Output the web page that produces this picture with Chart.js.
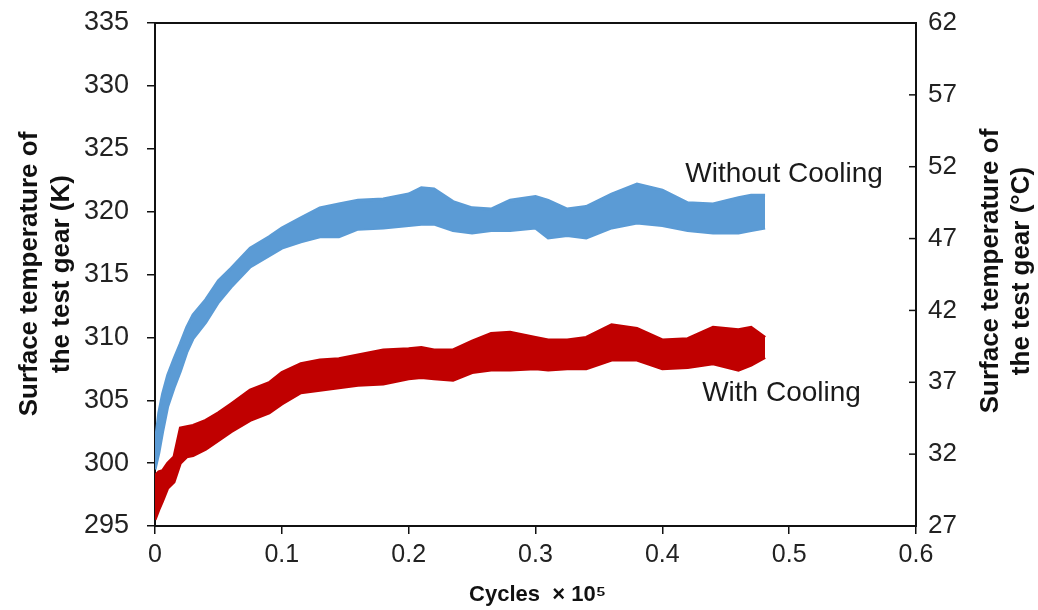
<!DOCTYPE html>
<html>
<head>
<meta charset="utf-8">
<script src="https://cdn.jsdelivr.net/npm/chart.js@4/dist/chart.umd.min.js"></script>
<style>
  html, body { margin: 0; padding: 0; background: #fff; }
  #wrap { width: 1038px; height: 610px; position: relative; }
</style>
</head>
<body>
<div id="wrap"><canvas id="c" width="1038" height="610"></canvas></div>
<script>
// ---- data ----
const cycles = [0, 0.003, 0.006, 0.01, 0.015, 0.02, 0.025, 0.03, 0.04, 0.05, 0.06, 0.075, 0.09, 0.1, 0.115, 0.13, 0.145, 0.16, 0.18, 0.2, 0.21, 0.22, 0.235, 0.25, 0.265, 0.28, 0.3, 0.31, 0.325, 0.34, 0.36, 0.38, 0.4, 0.42, 0.44, 0.46, 0.47, 0.481];
const withoutCoolingUpper = [301.5, 304.0, 305.5, 307.0, 308.3, 309.5, 310.8, 311.8, 313.0, 314.5, 315.5, 317.1, 318.0, 318.7, 319.5, 320.3, 320.6, 320.9, 321.0, 321.4, 321.9, 321.8, 320.8, 320.3, 320.2, 320.9, 321.2, 320.9, 320.2, 320.4, 321.4, 322.2, 321.7, 320.7, 320.6, 321.1, 321.3, 321.3];
const withoutCoolingLower = [299.5, 300.8, 302.5, 304.5, 306.0, 307.3, 308.8, 309.9, 311.2, 312.8, 314.0, 315.6, 316.5, 317.1, 317.6, 318.0, 318.0, 318.6, 318.7, 318.9, 319.0, 319.0, 318.5, 318.3, 318.5, 318.5, 318.7, 317.9, 318.1, 317.9, 318.7, 319.1, 318.9, 318.5, 318.3, 318.3, 318.5, 318.7];
const withCoolingUpper = [299.0, 299.3, 299.4, 300.0, 300.5, 302.8, 302.9, 303.0, 303.4, 304.0, 304.7, 305.8, 306.4, 307.2, 307.9, 308.2, 308.3, 308.6, 309.0, 309.1, 309.2, 309.0, 309.0, 309.7, 310.3, 310.4, 310.0, 309.8, 309.8, 310.0, 311.0, 310.7, 309.8, 309.9, 310.8, 310.6, 310.8, 310.0];
const withCoolingLower = [295.5, 296.3, 297.0, 298.0, 298.5, 300.0, 300.5, 300.6, 301.1, 301.8, 302.5, 303.4, 304.0, 304.7, 305.6, 305.8, 306.0, 306.2, 306.3, 306.7, 306.8, 306.7, 306.6, 307.2, 307.4, 307.4, 307.5, 307.4, 307.5, 307.5, 308.2, 308.2, 307.5, 307.6, 307.9, 307.4, 307.8, 308.4];
const xTickLabels = [0, 0.1, 0.2, 0.3, 0.4, 0.5, 0.6];
const kelvinTicks = [295, 300, 305, 310, 315, 320, 325, 330, 335];
const celsiusTicks = [27, 32, 37, 42, 47, 52, 57, 62];
const seriesNames = ['Without Cooling', 'With Cooling'];
const leftTitle = ['Surface temperature of', 'the test gear (K)'];
const rightTitle = ['Surface temperature of', 'the test gear (°C)'];
const xTitle = 'Cycles  × 10⁵';

const BLUE = '#5B9BD5';
const RED = '#C00000';
const pts = arr => arr.map((v, i) => ({ x: cycles[i], y: v }));

const FONT = '"Liberation Sans", Arial, sans-serif';
const NARROW = '"Liberation Sans Narrow", "Arial Narrow", "Liberation Sans", sans-serif';

const decor = {
  id: 'decor',
  afterDraw(chart) {
    const ctx = chart.ctx;
    const a = chart.chartArea;
    const x = chart.scales.x, y = chart.scales.y, y2 = chart.scales.y2;
    ctx.save();
    // top border
    ctx.strokeStyle = '#111';
    ctx.lineWidth = 2;
    ctx.beginPath();
    ctx.moveTo(a.left, a.top);
    ctx.lineTo(a.right, a.top);
    ctx.stroke();
    // inward ticks on right axis
    ctx.lineWidth = 1.5;
    celsiusTicks.forEach(v => {
      const py = y2.getPixelForValue(v);
      ctx.beginPath();
      ctx.moveTo(a.right - 7, py);
      ctx.lineTo(a.right, py);
      ctx.stroke();
    });
    ctx.fillStyle = '#111';
    // axis titles
    ctx.font = 'bold 26px ' + FONT;
    ctx.textAlign = 'center';
    ctx.textBaseline = 'middle';
    const cy = 274;
    [[30, leftTitle[0]], [62, leftTitle[1]]].forEach(([px, t]) => {
      ctx.save(); ctx.translate(px, cy); ctx.rotate(-Math.PI / 2); ctx.fillText(t, 0, 0); ctx.restore();
    });
    [[991, rightTitle[0]], [1022, rightTitle[1]]].forEach(([px, t]) => {
      ctx.save(); ctx.translate(px, cy - 3); ctx.rotate(-Math.PI / 2); ctx.fillText(t, 0, 0); ctx.restore();
    });
    // x title
    ctx.font = 'bold 22px ' + NARROW;
    ctx.fillText(xTitle, (a.left + a.right) / 2 + 2, 595);
    // series labels
    ctx.font = '28px ' + FONT;
    ctx.fillStyle = '#1a1a1a';
    ctx.fillText(seriesNames[0], x.getPixelForValue(0.496), y.getPixelForValue(322.95));
    ctx.fillText(seriesNames[1], x.getPixelForValue(0.494), y.getPixelForValue(305.55));
    ctx.restore();
  }
};

const fitVertical = w => s => { s.width = w; s.paddingTop = 0; s.paddingBottom = 0; };

new Chart(document.getElementById('c'), {
  type: 'line',
  data: {
    datasets: [
      { label: seriesNames[0] + ' upper', data: pts(withoutCoolingUpper), borderColor: BLUE, backgroundColor: BLUE, borderWidth: 3, pointRadius: 0, fill: '+1', yAxisID: 'y' },
      { label: seriesNames[0] + ' lower', data: pts(withoutCoolingLower), borderColor: BLUE, backgroundColor: BLUE, borderWidth: 3, pointRadius: 0, fill: false, yAxisID: 'y' },
      { label: seriesNames[1] + ' upper', data: pts(withCoolingUpper), borderColor: RED, backgroundColor: RED, borderWidth: 3, pointRadius: 0, fill: '+1', yAxisID: 'y' },
      { label: seriesNames[1] + ' lower', data: pts(withCoolingLower), borderColor: RED, backgroundColor: RED, borderWidth: 3, pointRadius: 0, fill: false, yAxisID: 'y' }
    ]
  },
  options: {
    responsive: false,
    animation: false,
    layout: { padding: { top: 23, left: 0, right: 0, bottom: 0 } },
    plugins: { legend: { display: false }, tooltip: { enabled: false } },
    scales: {
      x: {
        type: 'linear', min: 0, max: 0.6,
        afterBuildTicks: s => { s.ticks = xTickLabels.map(v => ({ value: v })); },
        afterFit: s => { s.height = 84; s.paddingLeft = 0; s.paddingRight = 0; },
        border: { display: true, color: '#111', width: 2 },
        grid: { display: true, drawOnChartArea: false, drawTicks: true, tickLength: 8, color: '#111', lineWidth: 1.5 },
        ticks: { color: '#222', font: { family: NARROW, size: 25 }, padding: 6, maxRotation: 0, callback: v => String(v) }
      },
      y: {
        position: 'left', min: 295, max: 335,
        afterBuildTicks: s => { s.ticks = kelvinTicks.map(v => ({ value: v })); },
        afterFit: fitVertical(155),
        border: { display: true, color: '#111', width: 2 },
        grid: { display: true, drawOnChartArea: false, drawTicks: true, tickLength: 8, color: '#111', lineWidth: 1.5 },
        ticks: { color: '#222', font: { family: FONT, size: 27 }, padding: 18, callback: v => String(v) }
      },
      y2: {
        position: 'right', min: 27, max: 62,
        afterBuildTicks: s => { s.ticks = celsiusTicks.map(v => ({ value: v })); },
        afterFit: fitVertical(122),
        border: { display: true, color: '#111', width: 2 },
        grid: { display: false, drawOnChartArea: false, drawTicks: false },
        ticks: { color: '#222', font: { family: FONT, size: 26 }, padding: 12, callback: v => String(v) }
      }
    }
  },
  plugins: [decor]
});
</script>
</body>
</html>
